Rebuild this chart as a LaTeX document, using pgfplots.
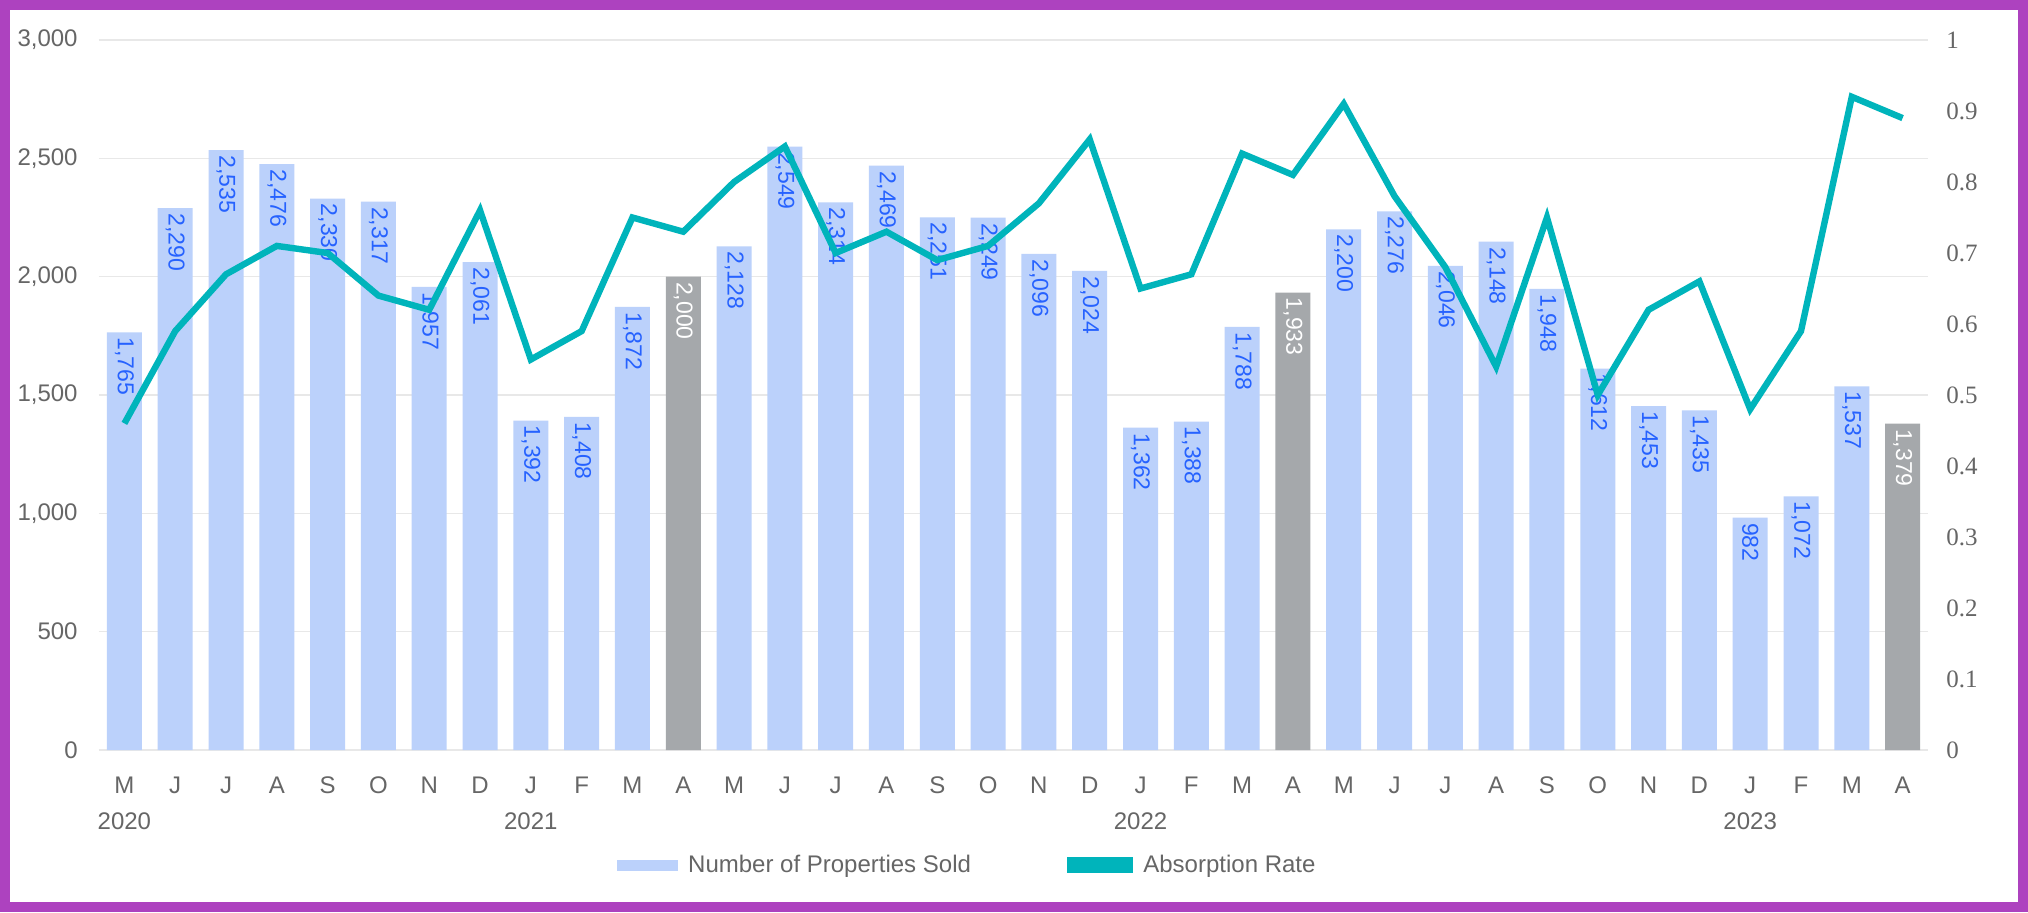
\documentclass[border=0pt]{standalone}
\usepackage{fontspec}
\setmainfont{Liberation Sans}
\newfontfamily\ratefont{Liberation Serif}
\usepackage{pgfplots}
\pgfplotsset{compat=1.18}

\definecolor{barblue}{HTML}{BBD1FB}
\definecolor{bargray}{HTML}{A5A8AB}
\definecolor{labelblue}{HTML}{2662FF}
\definecolor{rateteal}{HTML}{00B4BB}
\definecolor{gridgray}{HTML}{E8E8E8}
\definecolor{tickgray}{HTML}{666666}
\definecolor{framepurple}{HTML}{AD42BF}

\newcommand\ticksz{\fontsize{12}{14}\selectfont}
\newcommand\monthsz{\fontsize{12}{18}\selectfont}
\newcommand\labelsz{\fontsize{11.5}{13}\selectfont}
\newcommand\ratesz{\ratefont\fontsize{12.5}{15}\selectfont}

\begin{document}
\begin{tikzpicture}
\path[use as bounding box] (-49.5pt,-81pt) rectangle (964.5pt,375pt);
\fill[white] (-49.5pt,-81pt) rectangle (964.5pt,375pt);
\draw[framepurple, line width=5pt] (-47pt,-78.5pt) rectangle (962pt,372.5pt);

% bars, left axis
\begin{axis}[
    scale only axis,
    width=914.5pt, height=355pt,
    xmin=-0.5, xmax=35.5,
    ymin=0, ymax=3000,
    ybar, bar width=17.5pt,
    axis line style={draw=none},
    tick style={draw=none},
    ymajorgrids=true,
    grid style={gridgray, line width=0.8pt},
    ytick={0,500,1000,1500,2000,2500,3000},
    /pgf/number format/assume math mode=true,
    /pgf/number format/1000 sep={,},
    yticklabel style={font=\ticksz, text=tickgray, anchor=east, inner sep=0pt, xshift=-10.5pt},
    xtick={0,...,35},
    xticklabels={{M\\2020},J,J,A,S,O,N,D,{J\\2021},F,M,A,M,J,J,A,S,O,N,D,{J\\2022},F,M,A,M,J,J,A,S,O,N,D,{J\\2023},F,M,A},
    xticklabel style={font=\monthsz, text=tickgray, align=center, anchor=north, inner sep=0pt, yshift=-9pt},
    nodes near coords={\pgfmathprintnumber{\pgfplotspointmeta}},
    every node near coord/.append style={rotate=-90, anchor=west, font=\labelsz, inner sep=2.5pt},
]

% Number of Properties Sold
\addplot[fill=barblue, draw=none, bar shift=0pt,
    every node near coord/.append style={text=labelblue}] coordinates {
    (0,1765) (1,2290) (2,2535) (3,2476) (4,2330) (5,2317) (6,1957) (7,2061)
    (8,1392) (9,1408) (10,1872) (12,2128) (13,2549) (14,2314) (15,2469)
    (16,2251) (17,2249) (18,2096) (19,2024) (20,1362) (21,1388) (22,1788)
    (24,2200) (25,2276) (26,2046) (27,2148) (28,1948) (29,1612) (30,1453)
    (31,1435) (32,982) (33,1072) (34,1537)
};

% highlighted months
\addplot[fill=bargray, draw=none, bar shift=0pt,
    every node near coord/.append style={text=white}] coordinates {
    (11,2000) (23,1933) (35,1379)
};

\end{axis}

% absorption rate, right axis
\begin{axis}[
    scale only axis,
    width=914.5pt, height=355pt,
    xmin=-0.5, xmax=35.5,
    ymin=0, ymax=1,
    axis y line*=right,
    axis x line=none,
    axis line style={draw=none},
    tick style={draw=none},
    ytick={0,0.1,0.2,0.3,0.4,0.5,0.6,0.7,0.8,0.9,1},
    /pgf/number format/assume math mode=true,
    yticklabel style={font=\ratesz, text=tickgray, anchor=west, inner sep=0pt, xshift=9pt},
    legend style={at={(0.2832,-0.162)}, anchor=west, draw=none, fill=none,
        font=\ticksz, text=tickgray, inner sep=0pt, nodes={inner sep=0pt},
        /tikz/every odd column/.append style={column sep=5pt},
        /tikz/every even column/.append style={column sep=48pt}},
    legend columns=2,
]
\addlegendimage{legend image code/.code={\fill[barblue] (0pt,-2.5pt) rectangle (30pt,2.5pt);}}
\addlegendentry{Number of Properties Sold}

\addplot[rateteal, line width=3.2pt,
    legend image code/.code={\fill[rateteal] (0pt,-2.5pt) rectangle (30pt,2.5pt);}] coordinates {
    (0,0.46) (1,0.59) (2,0.67) (3,0.71) (4,0.70) (5,0.64) (6,0.62) (7,0.76)
    (8,0.55) (9,0.59) (10,0.75) (11,0.73) (12,0.80) (13,0.85) (14,0.70)
    (15,0.73) (16,0.69) (17,0.71) (18,0.77) (19,0.86) (20,0.65) (21,0.67)
    (22,0.84) (23,0.81) (24,0.91) (25,0.78) (26,0.68) (27,0.54) (28,0.75)
    (29,0.50) (30,0.62) (31,0.66) (32,0.48) (33,0.59) (34,0.92) (35,0.89)
};
\addlegendentry{Absorption Rate}

\end{axis}
\end{tikzpicture}
\end{document}
